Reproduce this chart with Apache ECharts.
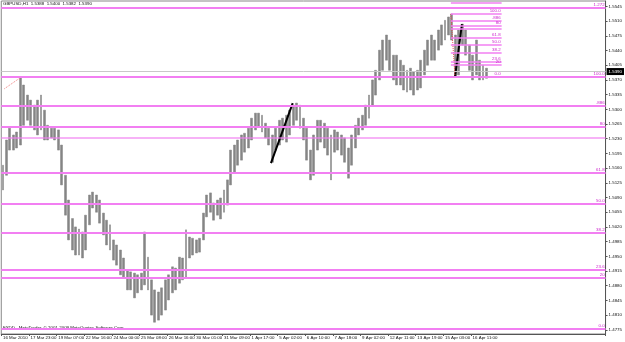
<!DOCTYPE html>
<html><head><meta charset="utf-8">
<script src="https://cdn.jsdelivr.net/npm/echarts@6/dist/echarts.min.js"></script>
<style>html,body{margin:0;padding:0;background:#fff}#c{width:625px;height:342px}</style>
</head><body><div id="c"></div>
<script>
// ---- data (4-hour slots) ----
const barHigh = [1.5167,1.5227,1.5255,1.5239,1.5246,1.5377,1.5358,1.5334,1.5322,1.5310,1.5322,1.5334,1.5298,1.5262,1.5255,1.5255,1.5251,1.5215,1.5143,1.5084,1.5040,1.5020,1.5015,1.5008,1.5048,1.5096,1.5103,1.5096,1.5084,1.5053,1.5036,1.5025,1.4989,1.4977,1.4965,1.4946,1.4917,1.4913,1.4910,1.4906,1.4910,1.5008,1.4948,1.4894,1.4870,1.4865,1.4875,1.4894,1.4906,1.4925,1.4922,1.4948,1.4946,1.5013,1.4996,1.4993,1.4989,1.4993,1.5053,1.5096,1.5101,1.5077,1.5084,1.5089,1.5108,1.5132,1.5203,1.5215,1.5227,1.5239,1.5243,1.5255,1.5279,1.5291,1.5291,1.5286,1.5267,1.5255,1.5239,1.5255,1.5274,1.5279,1.5286,1.5298,1.5310,1.5315,1.5310,1.5279,1.5255,1.5203,1.5239,1.5274,1.5274,1.5267,1.5255,1.5239,1.5251,1.5246,1.5239,1.5232,1.5208,1.5239,1.5262,1.5279,1.5286,1.5310,1.5334,1.5370,1.5393,1.5441,1.5465,1.5477,1.5465,1.5429,1.5429,1.5417,1.5405,1.5393,1.5398,1.5389,1.5393,1.5417,1.5441,1.5465,1.5477,1.5465,1.5489,1.5501,1.5512,1.5520,1.5527,1.5477,1.5489,1.5503,1.5489,1.5453,1.5429,1.5465,1.5417,1.5405,1.5398];
const barLow = [1.5108,1.5143,1.5203,1.5203,1.5208,1.5215,1.5262,1.5274,1.5262,1.5251,1.5239,1.5251,1.5227,1.5227,1.5232,1.5227,1.5203,1.5120,1.5048,1.4989,1.4965,1.4953,1.4953,1.4946,1.4965,1.5025,1.5065,1.5055,1.5029,1.5001,1.4977,1.4965,1.4941,1.4929,1.4906,1.4901,1.4870,1.4870,1.4851,1.4863,1.4870,1.4882,1.4870,1.4810,1.4793,1.4798,1.4810,1.4822,1.4846,1.4863,1.4870,1.4886,1.4894,1.4901,1.4946,1.4953,1.4958,1.4960,1.4989,1.5044,1.5055,1.5036,1.5048,1.5039,1.5055,1.5072,1.5120,1.5151,1.5167,1.5179,1.5198,1.5208,1.5227,1.5251,1.5258,1.5246,1.5232,1.5215,1.5174,1.5203,1.5215,1.5227,1.5222,1.5239,1.5262,1.5274,1.5255,1.5227,1.5179,1.5132,1.5143,1.5203,1.5222,1.5208,1.5191,1.5132,1.5198,1.5203,1.5191,1.5174,1.5136,1.5167,1.5208,1.5239,1.5251,1.5262,1.5279,1.5310,1.5334,1.5370,1.5393,1.5417,1.5393,1.5370,1.5358,1.5358,1.5346,1.5341,1.5346,1.5334,1.5346,1.5351,1.5382,1.5405,1.5417,1.5417,1.5441,1.5453,1.5465,1.5477,1.5465,1.5377,1.5382,1.5453,1.5429,1.5393,1.5370,1.5382,1.5370,1.5370,1.5374];
const slotCount = 175;
const xTickLabels = ['16 Mar 2010','17 Mar 23:00','19 Mar 07:00','22 Mar 16:00','24 Mar 00:00','25 Mar 08:00','26 Mar 16:00','30 Mar 01:00','31 Mar 09:00','1 Apr 17:00','5 Apr 02:00','6 Apr 10:00','7 Apr 18:00','9 Apr 02:00','12 Apr 11:00','13 Apr 19:00','15 Apr 03:00','16 Apr 11:00'];
const slotsPerLabel = 8;
const yTickValues = [1.5545,1.5510,1.5475,1.5440,1.5405,1.5370,1.5335,1.5300,1.5265,1.5230,1.5195,1.5160,1.5125,1.5090,1.5055,1.5020,1.4985,1.4950,1.4915,1.4880,1.4845,1.4810,1.4775];
const bidPrice = 1.5390;
const bigFibLabels = ['1.272','100.0','.886','80','','61.8','50.0','38.2','23.6','20','0.0'];
const bigFibPrices = [1.5541,1.5377,1.5308,1.5258,1.5233,1.5148,1.5076,1.5006,1.4919,1.4898,1.4777];
const smallFibLabels = ['','100.0','.886','80','','61.8','50.0','38.2','23.6','20','0.0'];
const smallFibPrices = [1.5554,1.5528,1.5511,1.5498,1.5492,1.5470,1.5453,1.5435,1.5413,1.5407,1.5378];
const smallFibFrom = 130.2, smallFibTo = 144.9;
const trendA = [[78.1,1.5172],[84.4,1.5315]];
const trendB = [[131.4,1.5377],[133.4,1.5503]];
const dashA = [[130.2,1.5527],[131.4,1.5377]];
const dashB = [[0.9,1.5349],[5.8,1.5377]];

const cats = Array.from({length: slotCount}, (_, i) => String(i));
const candle = barHigh.map((h, i) => [barLow[i], h, barLow[i], h]);
const FONT = 'Liberation Sans';
const FS = 4.4;
const PINK = '#f27ff2';
const FIBTXT = '#cc22cc';
const isLabelSlot = (i) => i % slotsPerLabel === 0 && i / slotsPerLabel < xTickLabels.length;

const fibLines = bigFibPrices.map((p, i) => ({
  yAxis: p,
  lineStyle: {color: PINK, width: 2, type: 'solid', opacity: bigFibLabels[i] === '' ? 0.6 : 1},
  label: {show: bigFibLabels[i] !== '', formatter: bigFibLabels[i], position: 'insideEndTop', color: FIBTXT, fontSize: FS, fontFamily: FONT, distance: 1}
}));
const smallLines = smallFibPrices.map((p, i) => [
  {coord: [smallFibFrom, p], lineStyle: {color: PINK, width: 1.5, type: 'solid'},
   label: {show: smallFibLabels[i] !== '', formatter: smallFibLabels[i], position: 'insideEndTop', color: FIBTXT, fontSize: FS, fontFamily: FONT, distance: 1}},
  {coord: [smallFibTo, p]}
]);

const chart = echarts.init(document.getElementById('c'), null, {renderer: 'canvas'});
chart.setOption({
  animation: false,
  backgroundColor: '#fff',
  grid: {left: 0, right: 18, top: 1, bottom: 8, show: true, borderColor: '#888', borderWidth: 1},
  xAxis: [{
    type: 'category', data: cats, boundaryGap: true,
    axisLine: {show: true, lineStyle: {color: '#555', width: 1}},
    axisTick: {show: true, length: 2, interval: (i) => isLabelSlot(i), lineStyle: {color: '#555'}},
    axisLabel: {show: true, interval: (i) => isLabelSlot(i), showMinLabel: true, showMaxLabel: true, hideOverlap: false,
      formatter: (v) => { const n = Number(v); return isLabelSlot(n) ? xTickLabels[n / slotsPerLabel] : ''; },
      align: 'left', margin: 2, fontSize: FS, fontFamily: FONT, color: '#111'},
    splitLine: {show: false}
  }, {
    type: 'value', min: 0, max: slotCount, show: false
  }],
  yAxis: {
    type: 'value', position: 'right', min: 1.4765, max: 1.5558,
    axisLine: {show: true, onZero: false, lineStyle: {color: '#555'}},
    axisTick: {show: true, length: 2, customValues: yTickValues, lineStyle: {color: '#555'}},
    axisLabel: {show: true, customValues: yTickValues, formatter: (v) => v.toFixed(4), margin: 3,
      fontSize: FS, fontFamily: FONT, color: '#111'},
    splitLine: {show: false}
  },
  series: [{
    type: 'candlestick', data: candle, barWidth: 2.4,
    itemStyle: {color: '#858585', color0: '#858585', borderColor: '#858585', borderColor0: '#858585', borderWidth: 0.5},
    markLine: {
      symbol: ['none', 'none'], silent: true, animation: false, precision: 4,
      data: fibLines.concat([{
        yAxis: bidPrice, lineStyle: {color: '#c8c8c8', width: 1, type: 'solid'},
        label: {show: true, position: 'end', formatter: bidPrice.toFixed(4), backgroundColor: '#000', color: '#fff',
          fontSize: FS, fontFamily: FONT, padding: [1.5, 2], distance: 1}
      }])
    }
  }, {
    type: 'line', xAxisIndex: 1, data: [], silent: true,
    markLine: {symbol: ['none', 'none'], silent: true, animation: false, precision: 4, data: smallLines}
  }, {
    type: 'line', xAxisIndex: 1, data: trendA, symbol: 'none', lineStyle: {color: '#000', width: 2}, silent: true
  }, {
    type: 'line', xAxisIndex: 1, data: trendB, symbol: 'none', lineStyle: {color: '#000', width: 2}, silent: true
  }, {
    type: 'line', xAxisIndex: 1, data: dashA, symbol: 'none', lineStyle: {color: '#e05050', width: 1, type: 'dotted'}, silent: true
  }, {
    type: 'line', xAxisIndex: 1, data: dashB, symbol: 'none', lineStyle: {color: '#f08080', width: 1, type: 'dotted'}, silent: true
  }],
  graphic: [
    {type: 'text', left: 3, top: 2, style: {text: 'GBPUSD,H1  1.5388  1.5400  1.5382  1.5390', font: FS + 'px "Liberation Sans"', fill: '#111'}},
    {type: 'text', left: 3, top: 326, style: {text: 'FXDD - MetaTrader, © 2001-2009 MetaQuotes Software Corp.', font: FS + 'px "Liberation Sans"', fill: '#111'}}
  ]
});
</script></body></html>
